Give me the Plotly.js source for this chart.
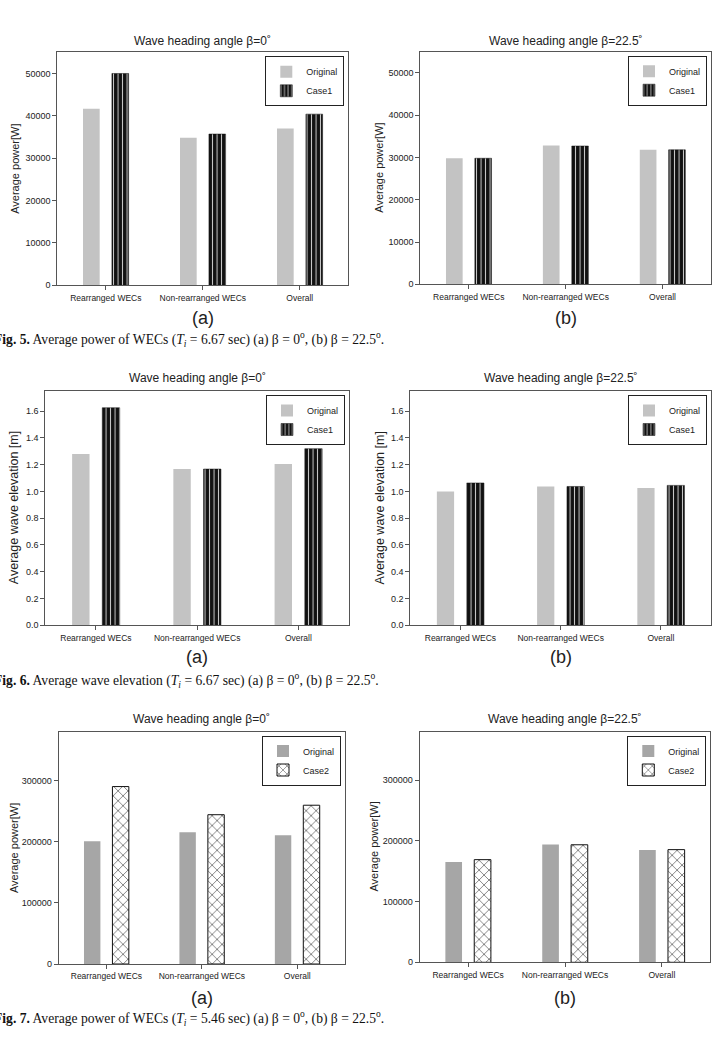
<!DOCTYPE html>
<html>
<head>
<meta charset="utf-8">
<script src="https://cdn.plot.ly/plotly-3.0.1.min.js"></script>
<style>
  html, body { margin: 0; padding: 0; background: #fff; }
  #chart { width: 724px; height: 1042px; }
</style>
</head>
<body>
<div id="chart"></div>
<script>
// ---- data ----
const categories = ['Rearranged WECs', 'Non-rearranged WECs', 'Overall'];

// Fig. 5: average power of WECs [W], Ti = 6.67 s
const power667Beta0Original   = [41700, 34800, 37000];
const power667Beta0Case1      = [50000, 35700, 40400];
const power667Beta225Original = [29800, 32800, 31800];
const power667Beta225Case1    = [29800, 32700, 31800];

// Fig. 6: average wave elevation [m], Ti = 6.67 s
const elev667Beta0Original   = [1.28, 1.167, 1.204];
const elev667Beta0Case1      = [1.625, 1.167, 1.319];
const elev667Beta225Original = [1.0, 1.037, 1.025];
const elev667Beta225Case1    = [1.063, 1.037, 1.045];

// Fig. 7: average power of WECs [W], Ti = 5.46 s
const power546Beta0Original   = [200500, 215500, 210500];
const power546Beta0Case2      = [290000, 244000, 259500];
const power546Beta225Original = [165000, 194000, 185000];
const power546Beta225Case2    = [169000, 193500, 185500];

// tick values
const powerTicks      = [0, 10000, 20000, 30000, 40000, 50000];
const elevTicks       = [0, 0.2, 0.4, 0.6, 0.8, 1.0, 1.2, 1.4, 1.6];
const powerTicksLarge = [0, 100000, 200000, 300000];

// text
const headingTitles = ['Wave heading angle \u03b2=0\u02da', 'Wave heading angle \u03b2=22.5\u02da'];
const powerLabel = 'Average power[W]';
const elevLabel  = 'Average wave elevation [m]';
const panelLetters = ['(a)', '(b)'];
const captions = [
  '<b>Fig. 5.</b> Average power of WECs (<i>T<sub>i</sub></i> = 6.67 sec) (a) \u03b2 = 0<sup>o</sup>, (b) \u03b2 = 22.5<sup>o</sup>.',
  '<b>Fig. 6.</b> Average wave elevation (<i>T<sub>i</sub></i> = 6.67 sec) (a) \u03b2 = 0<sup>o</sup>, (b) \u03b2 = 22.5<sup>o</sup>.',
  '<b>Fig. 7.</b> Average power of WECs (<i>T<sub>i</sub></i> = 5.46 sec) (a) \u03b2 = 0<sup>o</sup>, (b) \u03b2 = 22.5<sup>o</sup>.'
];

// ---- page geometry (pixels) ----
const W = 724, H = 1042;
const px = p => p / W;
const py = p => 1 - p / H;

const SANS = 'Liberation Sans, Arial, sans-serif';
const SERIF = 'Liberation Serif, Times New Roman, serif';
const INK = '#222';
const FRAME = '#555';

const panels = [
  { box: [57.3, 52.3, 348.3, 285.3], orig: power667Beta0Original, alt: power667Beta0Case1, altName: 'Case1',
    range: [0, 55000], ticks: powerTicks, fmt: 'd', title: headingTitles[0], ylab: powerLabel, ylabX: 15, ylabSize: 11,
    letter: panelLetters[0], letterY: 318, titleY: 41, origColor: '#c3c3c3' },
  { box: [420.3, 51.7, 711, 284.3], orig: power667Beta225Original, alt: power667Beta225Case1, altName: 'Case1',
    range: [0, 55000], ticks: powerTicks, fmt: 'd', title: headingTitles[1], ylab: powerLabel, ylabX: 378.7, ylabSize: 11,
    letter: panelLetters[1], letterY: 318, titleY: 41, origColor: '#c3c3c3' },
  { box: [45.3, 391, 349, 625.3], orig: elev667Beta0Original, alt: elev667Beta0Case1, altName: 'Case1',
    range: [0, 1.75], ticks: elevTicks, fmt: '.1f', title: headingTitles[0], ylab: elevLabel, ylabX: 14, ylabSize: 12.5,
    letter: panelLetters[0], letterY: 657, titleY: 378, origColor: '#c3c3c3' },
  { box: [410.3, 391, 711, 625.3], orig: elev667Beta225Original, alt: elev667Beta225Case1, altName: 'Case1',
    range: [0, 1.75], ticks: elevTicks, fmt: '.1f', title: headingTitles[1], ylab: elevLabel, ylabX: 380.3, ylabSize: 12.5,
    letter: panelLetters[1], letterY: 657, titleY: 378, origColor: '#c3c3c3' },
  { box: [58.7, 731.5, 345, 964], orig: power546Beta0Original, alt: power546Beta0Case2, altName: 'Case2',
    range: [0, 380000], ticks: powerTicksLarge, fmt: 'd', title: headingTitles[0], ylab: powerLabel, ylabX: 13.3, ylabSize: 11,
    letter: panelLetters[0], letterY: 998, titleY: 719, origColor: '#a6a6a6' },
  { box: [419.7, 731.5, 710.3, 962.3], orig: power546Beta225Original, alt: power546Beta225Case2, altName: 'Case2',
    range: [0, 380000], ticks: powerTicksLarge, fmt: 'd', title: headingTitles[1], ylab: powerLabel, ylabX: 373.7, ylabSize: 11,
    letter: panelLetters[1], letterY: 998, titleY: 719, origColor: '#a6a6a6' }
];

const captionRows = [340, 680, 1018];

const BAR_W = 0.172;
const case1Marker = {
  color: '#111',
  line: { color: '#111', width: 0.5 },
  pattern: { shape: '|', fgcolor: '#cfcfcf', bgcolor: '#111', size: 4.5, solidity: 0.22, fillmode: 'replace' }
};
const case2Marker = {
  color: '#fff',
  line: { color: '#111', width: 1 },
  pattern: { shape: 'x', fgcolor: '#111', bgcolor: '#fff', size: 7, solidity: 0.14, fillmode: 'replace' }
};

const traces = [];
const layout = {
  width: W, height: H,
  margin: { l: 0, r: 0, t: 0, b: 0 },
  paper_bgcolor: '#fff',
  plot_bgcolor: '#fff',
  barmode: 'overlay',
  showlegend: true,
  font: { family: SANS, color: INK },
  annotations: []
};

panels.forEach((p, i) => {
  const n = i + 1;
  const xs = n === 1 ? '' : String(n);
  const legendId = n === 1 ? 'legend' : 'legend' + n;
  const [l, t, r, b] = p.box;

  traces.push({
    type: 'bar', x: categories, y: p.orig, name: 'Original',
    xaxis: 'x' + xs, yaxis: 'y' + xs, legend: legendId,
    offset: -0.235, width: BAR_W,
    marker: { color: p.origColor, line: { width: 0 } },
    hoverinfo: 'skip'
  });
  traces.push({
    type: 'bar', x: categories, y: p.alt, name: p.altName,
    xaxis: 'x' + xs, yaxis: 'y' + xs, legend: legendId,
    offset: 0.063, width: BAR_W,
    marker: p.altName === 'Case1' ? case1Marker : case2Marker,
    hoverinfo: 'skip'
  });

  layout['xaxis' + xs] = {
    domain: [px(l), px(r)], anchor: 'y' + xs,
    type: 'category', range: [-0.5, 2.5],
    showline: true, linecolor: FRAME, linewidth: 1, mirror: true,
    ticks: 'outside', ticklen: 4, tickcolor: FRAME, tickwidth: 1,
    tickfont: { family: SANS, size: 8.5, color: INK },
    showgrid: false, zeroline: false, fixedrange: true
  };
  layout['yaxis' + xs] = {
    domain: [py(b), py(t)], anchor: 'x' + xs,
    range: p.range, tickvals: p.ticks, tickformat: p.fmt,
    showline: true, linecolor: FRAME, linewidth: 1, mirror: true,
    ticks: 'outside', ticklen: 4, tickcolor: FRAME, tickwidth: 1,
    tickfont: { family: SANS, size: 9, color: INK },
    showgrid: false, zeroline: false, fixedrange: true
  };
  layout[legendId] = {
    x: px(r - 4), xanchor: 'right',
    y: py(t + 4), yanchor: 'top',
    bgcolor: '#fff', bordercolor: '#222', borderwidth: 1,
    font: { family: SANS, size: 9, color: INK },
    tracegroupgap: 0, itemwidth: 30
  };

  const cx = (l + r) / 2;
  layout.annotations.push(
    { text: p.title, xref: 'paper', yref: 'paper', x: px(cx), y: py(p.titleY),
      xanchor: 'center', yanchor: 'middle', showarrow: false,
      font: { family: SANS, size: 12, color: INK } },
    { text: p.ylab, xref: 'paper', yref: 'paper', x: px(p.ylabX), y: py((t + b) / 2),
      xanchor: 'center', yanchor: 'middle', showarrow: false, textangle: -90,
      font: { family: SANS, size: p.ylabSize, color: INK } },
    { text: p.letter, xref: 'paper', yref: 'paper', x: px(cx), y: py(p.letterY),
      xanchor: 'center', yanchor: 'middle', showarrow: false,
      font: { family: SANS, size: 18, color: INK } }
  );
});

// figure captions, set as a justified line that starts at the page margin
captions.forEach((c, k) => {
  layout.annotations.push({
    text: c, xref: 'paper', yref: 'paper', x: px(-8), y: py(captionRows[k]),
    xanchor: 'left', yanchor: 'middle', showarrow: false,
    font: { family: SERIF, size: 13.6, color: '#111' }
  });
});

Plotly.newPlot('chart', traces, layout, { displayModeBar: false, staticPlot: true });
</script>
</body>
</html>
